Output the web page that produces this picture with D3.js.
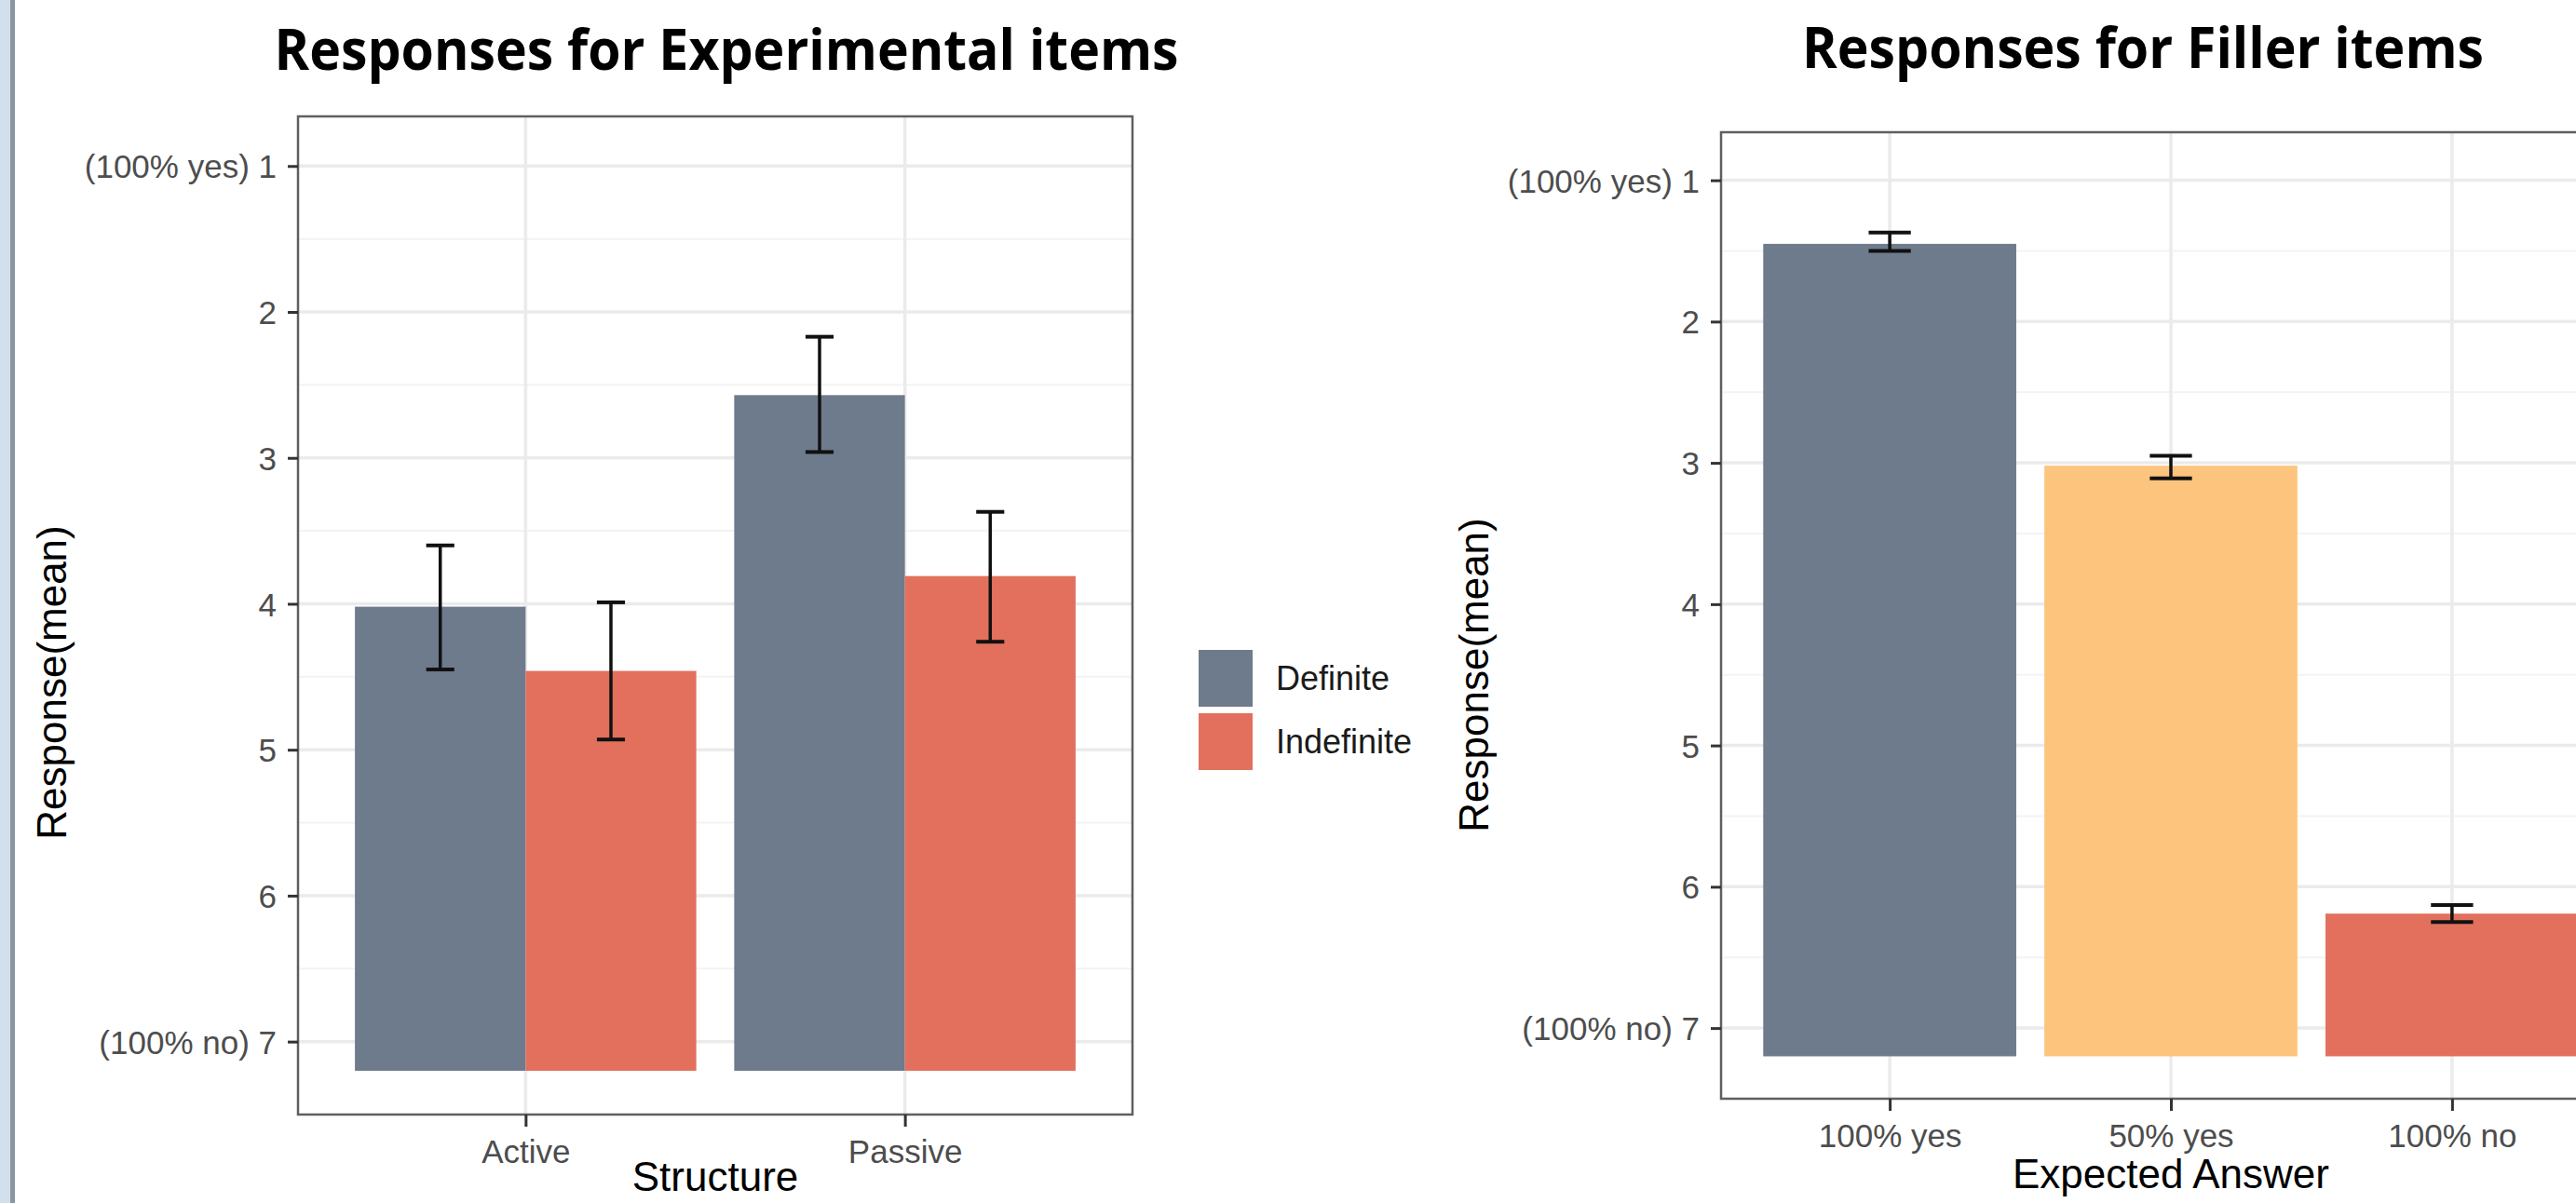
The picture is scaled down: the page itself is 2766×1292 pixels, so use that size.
<!DOCTYPE html>
<html>
<head>
<meta charset="utf-8">
<script src="https://cdn.jsdelivr.net/npm/d3@7"></script>
<style>
  html, body { margin: 0; padding: 0; background: #fff; overflow: hidden; }
  svg { display: block; }
</style>
</head>
<body>
<svg id="chart" width="2766" height="1292"></svg>
<script>
// ---------------- DATA ----------------
const expStructures = ["Active", "Passive"];
const expGroups = ["Definite", "Indefinite"];
const expMeans = { Definite: [4.02, 2.57], Indefinite: [4.46, 3.81] };
const expLower = { Definite: [3.60, 2.17], Indefinite: [3.99, 3.37] };
const expUpper = { Definite: [4.45, 2.96], Indefinite: [4.93, 4.26] };

const fillCategories = ["100% yes", "50% yes", "100% no"];
const fillMeans = [1.45, 3.02, 6.19];
const fillLower = [1.37, 2.95, 6.13];
const fillUpper = [1.50, 3.11, 6.25];

const yTicks = [1, 2, 3, 4, 5, 6, 7];
const yTickLabels = ["(100% yes) 1", "2", "3", "4", "5", "6", "(100% no) 7"];
const yMinor = [1.5, 2.5, 3.5, 4.5, 5.5, 6.5];
const yDomain = [0.66, 7.5];
const barBase = 7.2;

const titles = ["Responses for Experimental items", "Responses for Filler items"];
const xTitles = ["Structure", "Expected Answer"];
const yTitle = "Response(mean)";

// ---------------- STYLE ----------------
const colDef = "#6E7B8C";
const colIndef = "#E2705D";
const colMid = "#FDC47D";
const groupColor = d3.scaleOrdinal().domain(expGroups).range([colDef, colIndef]);
const fillColor = d3.scaleOrdinal().domain(fillCategories).range([colDef, colMid, colIndef]);

const svg = d3.select("#chart");
svg.append("rect").attr("width", 2766).attr("height", 1292).attr("fill", "#fff");

// window edge decoration at far left
svg.append("rect").attr("x", 0).attr("y", 0).attr("width", 11).attr("height", 1292).attr("fill", "#d3e0ec");
svg.append("rect").attr("x", 11).attr("y", 0).attr("width", 5).attr("height", 1292).attr("fill", "#8a96a2");

const FONT = "'Liberation Sans', Arial, Helvetica, sans-serif";

function drawPanel(cfg) {
  const g = svg.append("g");
  const x = d3.scalePoint().domain(cfg.cats).range([cfg.left, cfg.right]).padding(0.6);
  const y = d3.scaleLinear().domain(yDomain).range([cfg.top, cfg.bottom]);
  const step = x.step();

  const clipId = "clip" + cfg.id;
  svg.append("clipPath").attr("id", clipId).append("rect")
    .attr("x", cfg.left).attr("y", cfg.top)
    .attr("width", cfg.right - cfg.left).attr("height", cfg.bottom - cfg.top);
  const p = g.append("g").attr("clip-path", `url(#${clipId})`);

  p.selectAll(".minor").data(yMinor).enter().append("line")
    .attr("x1", cfg.left).attr("x2", cfg.right)
    .attr("y1", d => y(d)).attr("y2", d => y(d))
    .attr("stroke", "#F3F3F3").attr("stroke-width", 2);
  p.selectAll(".major").data(yTicks).enter().append("line")
    .attr("x1", cfg.left).attr("x2", cfg.right)
    .attr("y1", d => y(d)).attr("y2", d => y(d))
    .attr("stroke", "#EBEBEB").attr("stroke-width", 3.5);
  p.selectAll(".vmajor").data(cfg.cats).enter().append("line")
    .attr("x1", d => x(d)).attr("x2", d => x(d))
    .attr("y1", cfg.top).attr("y2", cfg.bottom)
    .attr("stroke", "#EBEBEB").attr("stroke-width", 3.5);

  cfg.drawBars(p, x, y, step);

  g.append("rect").attr("x", cfg.left).attr("y", cfg.top)
    .attr("width", cfg.right - cfg.left).attr("height", cfg.bottom - cfg.top)
    .attr("fill", "none").attr("stroke", "#5f5f5f").attr("stroke-width", 2.5);

  const yAxis = d3.axisLeft(y).tickValues(yTicks)
    .tickFormat((d, i) => yTickLabels[i]).tickSize(11).tickPadding(12);
  const ya = g.append("g").attr("transform", `translate(${cfg.left},0)`).call(yAxis);
  ya.select(".domain").remove();
  ya.selectAll(".tick line").attr("stroke", "#333").attr("stroke-width", 3);
  ya.selectAll(".tick text").attr("fill", "#4D4D4D")
    .style("font-family", FONT).style("font-size", "35px").attr("dy", "0.36em");

  const xAxis = d3.axisBottom(x).tickSize(13).tickPadding(14);
  const xa = g.append("g").attr("transform", `translate(0,${cfg.bottom})`).call(xAxis);
  xa.select(".domain").remove();
  xa.selectAll(".tick line").attr("stroke", "#333").attr("stroke-width", 3);
  xa.selectAll(".tick text").attr("fill", "#4D4D4D")
    .style("font-family", FONT).style("font-size", "35px").attr("dy", "0.71em");

  g.append("text").attr("x", (cfg.left + cfg.right) / 2).attr("y", cfg.xTitleY)
    .attr("text-anchor", "middle").attr("fill", "#000")
    .style("font-family", FONT).style("font-size", "44px").text(cfg.xTitle);

  g.append("text").attr("transform", `translate(${cfg.yTitleX},${cfg.yTitleY}) rotate(-90)`)
    .attr("text-anchor", "middle").attr("fill", "#000")
    .style("font-family", FONT).style("font-size", "44px").text(yTitle);

  g.append("text").attr("x", cfg.titleX).attr("y", cfg.titleY)
    .attr("text-anchor", "middle").attr("fill", "#000")
    .attr("textLength", cfg.titleW).attr("lengthAdjust", "spacingAndGlyphs")
    .style("font-family", "'Open Sans', 'Noto Sans', sans-serif")
    .style("font-weight", "bold").style("font-size", "60px").text(cfg.title);
}

function errorBar(sel, cx, yLo, yHi, half) {
  sel.append("line").attr("x1", cx).attr("x2", cx).attr("y1", yLo).attr("y2", yHi)
    .attr("stroke", "#111").attr("stroke-width", 3.5);
  [yLo, yHi].forEach(yy => sel.append("line")
    .attr("x1", cx - half).attr("x2", cx + half).attr("y1", yy).attr("y2", yy)
    .attr("stroke", "#111").attr("stroke-width", 4));
}

// ---------------- LEFT PANEL ----------------
drawPanel({
  id: "L", cats: expStructures, left: 320, right: 1216, top: 125, bottom: 1197,
  title: titles[0], titleX: 780, titleY: 75, titleW: 971,
  xTitle: xTitles[0], xTitleY: 1279, yTitleX: 71, yTitleY: 733,
  drawBars: (p, x, y, step) => {
    const dodge = d3.scaleBand().domain(expGroups).range([-0.45 * step, 0.45 * step]);
    expGroups.forEach(gName => {
      expStructures.forEach((s, i) => {
        const x0 = x(s) + dodge(gName);
        p.append("rect").attr("x", x0).attr("width", dodge.bandwidth())
          .attr("y", y(expMeans[gName][i])).attr("height", y(barBase) - y(expMeans[gName][i]))
          .attr("fill", groupColor(gName));
      });
    });
    expGroups.forEach(gName => {
      expStructures.forEach((s, i) => {
        const cx = x(s) + dodge(gName) + dodge.bandwidth() / 2;
        errorBar(p, cx, y(expLower[gName][i]), y(expUpper[gName][i]), 0.037 * step);
      });
    });
  }
});

// legend
const legend = svg.append("g");
expGroups.forEach((gName, i) => {
  legend.append("rect").attr("x", 1287).attr("y", 698 + i * 68).attr("width", 58).attr("height", 61)
    .attr("fill", groupColor(gName));
  legend.append("text").attr("x", 1370).attr("y", 741 + i * 67.5)
    .attr("fill", "#1a1a1a").style("font-family", FONT).style("font-size", "36px").text(gName);
});

// ---------------- RIGHT PANEL ----------------
drawPanel({
  id: "R", cats: fillCategories, left: 1848, right: 2814, top: 142, bottom: 1180,
  title: titles[1], titleX: 2301, titleY: 73, titleW: 732,
  xTitle: xTitles[1], xTitleY: 1276, yTitleX: 1598, yTitleY: 725,
  drawBars: (p, x, y, step) => {
    const bw = 0.9 * step;
    fillCategories.forEach((c, i) => {
      p.append("rect").attr("x", x(c) - bw / 2).attr("width", bw)
        .attr("y", y(fillMeans[i])).attr("height", y(barBase) - y(fillMeans[i]))
        .attr("fill", fillColor(c));
    });
    fillCategories.forEach((c, i) => {
      errorBar(p, x(c), y(fillLower[i]), y(fillUpper[i]), 0.075 * step);
    });
  }
});
</script>
</body>
</html>
